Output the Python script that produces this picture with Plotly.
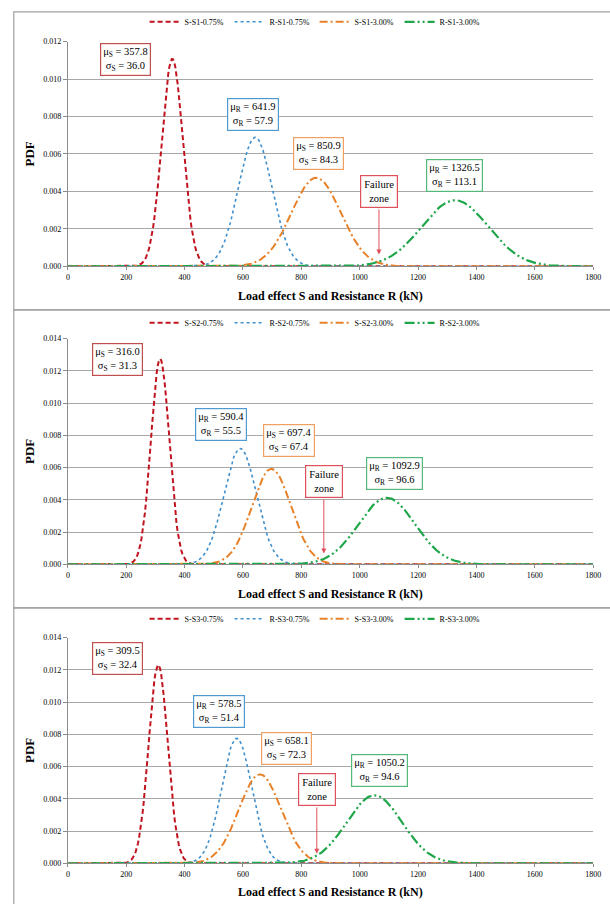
import numpy as np
import plotly.graph_objects as go

# ---- data (mean / std-dev labels of each normal PDF) ----
panel_ids = ["S1", "S2", "S3"]
series_labels = ["S-{p}-0.75%", "R-{p}-0.75%", "S-{p}-3.00%", "R-{p}-3.00%"]
mu_S_075 = [357.8, 316.0, 309.5]
sd_S_075 = [36.0, 31.3, 32.4]
mu_R_075 = [641.9, 590.4, 578.5]
sd_R_075 = [57.9, 55.5, 51.4]
mu_S_300 = [850.9, 697.4, 658.1]
sd_S_300 = [84.3, 67.4, 72.3]
mu_R_300 = [1326.5, 1092.9, 1050.2]
sd_R_300 = [113.1, 96.6, 94.6]
y_max = [0.012, 0.014, 0.014]
x_ticks = [0, 200, 400, 600, 800, 1000, 1200, 1400, 1600, 1800]

# annotation anchor points (data coords)
box_S075 = [(196, 0.01106), (169, 0.0127), (169, 0.0127)]
box_R075 = [(634, 0.0081), (523, 0.00865), (519, 0.00939)]
box_S300 = [(860, 0.00603), (759, 0.00767), (749, 0.00712)]
box_R300 = [(1325, 0.00487), (1120, 0.00564), (1069, 0.00577)]
fail_box = [(1066, 0.00402), (877, 0.00515), (853, 0.0046)]
fail_tip = [0.00063, 0.00067, 0.0006]

W, H = 610, 904
SERIF = "Liberation Serif, Times New Roman, serif"

colors = ["#C0141E", "#3F8FCB", "#E8822A", "#1FA64A"]
dashes = ["5px,3px", "dot", "8px,3px,2px,3px", "10px,3px,2px,3px,2px,3px"]
widths = [2, 1.6, 2, 2.2]
box_colors = ["#C0504D", "#4F9AD0", "#F0A060", "#52B97A"]

x = np.arange(0, 1801, 4.0)


def normal_pdf(xv, m, s):
    return np.exp(-0.5 * ((xv - m) / s) ** 2) / (s * np.sqrt(2 * np.pi))


fig = go.Figure()

# pixel layout of the three panels
panel_top = [8, 309, 610]
y_top_px = [38, 338, 640]
y_zero_px = [265, 566, 868]
legend_px = [18, 322, 621]
xl_px = 67
xr_px = 601


def py(p):
    return 1 - p / H


shapes = []
annotations = []
layout_axes = {}

for i, pid in enumerate(panel_ids):
    k = "" if i == 0 else str(i + 1)
    xa = "x" + k
    ya = "y" + k
    leg = "legend" + k
    mus = [mu_S_075[i], mu_R_075[i], mu_S_300[i], mu_R_300[i]]
    sds = [sd_S_075[i], sd_R_075[i], sd_S_300[i], sd_R_300[i]]
    for j in range(4):
        fig.add_trace(go.Scatter(
            x=x, y=normal_pdf(x, mus[j], sds[j]), mode="lines",
            name=series_labels[j].format(p=pid),
            line=dict(color=colors[j], dash=dashes[j], width=widths[j]),
            xaxis=xa, yaxis=ya, legend=leg, hoverinfo="skip"))

    ydom = [py(y_zero_px[i]), py(y_top_px[i])]
    layout_axes["xaxis" + k] = dict(
        domain=[xl_px / W, xr_px / W], anchor=ya, range=[0, 1800],
        tickvals=x_ticks, showgrid=False, showline=True, linecolor="#8C8C8C",
        ticks="outside", ticklen=3, tickcolor="#8C8C8C", zeroline=False,
        tickfont=dict(family=SERIF, size=8, color="#000"))
    layout_axes["yaxis" + k] = dict(
        domain=ydom, anchor=xa, range=[0, y_max[i]], dtick=0.002,
        tickformat=".3f", showgrid=True, gridcolor="#A8A8A8", gridwidth=1,
        showline=True, linecolor="#8C8C8C", ticks="outside", ticklen=4,
        tickcolor="#8C8C8C", zeroline=False,
        tickfont=dict(family=SERIF, size=8, color="#000"))
    layout_axes[leg] = dict(
        orientation="h", x=0.521, xanchor="center", y=py(legend_px[i]),
        yanchor="middle", font=dict(family=SERIF, size=8, color="#000"),
        bgcolor="rgba(0,0,0,0)", entrywidth=40, entrywidthmode="pixels",
        tracegroupgap=0)

    # panel border
    bottom = panel_top[i + 1] if i < 2 else H + 10
    shapes.append(dict(type="rect", xref="paper", yref="paper",
                       x0=12 / W, x1=1.05, y0=py(bottom), y1=py(panel_top[i]),
                       line=dict(color="#A0A0A0", width=1.2), layer="below"))

    # axis titles
    annotations.append(dict(text="<b>PDF</b>", xref="paper", yref="paper",
                            x=28 / W, y=(ydom[0] + ydom[1]) / 2, textangle=-90,
                            xanchor="center", yanchor="middle",
                            showarrow=False, font=dict(family=SERIF, size=13, color="#000")))
    annotations.append(dict(text="<b>Load effect S and Resistance R (kN)</b>",
                            xref="paper", yref="paper", x=(xl_px + xr_px) / 2 / W,
                            y=py(panel_top[i] + 287), xanchor="center", yanchor="middle",
                            showarrow=False,
                            font=dict(family=SERIF, size=12, color="#000")))

    # parameter boxes
    texts = [
        (box_S075[i], "μ<sub>S</sub> = %.1f<br>σ<sub>S</sub> = %.1f" % (mu_S_075[i], sd_S_075[i]), box_colors[0]),
        (box_R075[i], "μ<sub>R</sub> = %.1f<br>σ<sub>R</sub> = %.1f" % (mu_R_075[i], sd_R_075[i]), box_colors[1]),
        (box_S300[i], "μ<sub>S</sub> = %.1f<br>σ<sub>S</sub> = %.1f" % (mu_S_300[i], sd_S_300[i]), box_colors[2]),
        (box_R300[i], "μ<sub>R</sub> = %.1f<br>σ<sub>R</sub> = %.1f" % (mu_R_300[i], sd_R_300[i]), box_colors[3]),
    ]
    for (bx, by), t, c in texts:
        annotations.append(dict(text=t, x=bx, y=by, xref=xa, yref=ya, showarrow=False,
                                xanchor="center", yanchor="middle",
                                font=dict(family=SERIF, size=10.5, color="#000"),
                                bordercolor=c, borderwidth=1.2, borderpad=2,
                                bgcolor="white"))
    fx, fy = fail_box[i]
    annotations.append(dict(text="Failure<br>zone", x=fx, y=fy, xref=xa, yref=ya,
                            xanchor="center", yanchor="middle",
                            showarrow=False, font=dict(family=SERIF, size=10.5, color="#000"),
                            bordercolor="#E0505A", borderwidth=1.2, borderpad=3,
                            bgcolor="white"))
    annotations.append(dict(text="", x=fx, y=fail_tip[i], ax=fx,
                            ay=fy - 0.0009 * (1 if i == 0 else 1.15),
                            xref=xa, yref=ya, axref=xa, ayref=ya, showarrow=True,
                            arrowhead=2, arrowsize=1, arrowwidth=1, arrowcolor="#E0505A"))

fig.update_layout(
    width=W, height=H, margin=dict(l=0, r=0, t=0, b=0),
    paper_bgcolor="white", plot_bgcolor="white", showlegend=True,
    shapes=shapes, annotations=annotations, **layout_axes)

fig.write_html("out.html")
